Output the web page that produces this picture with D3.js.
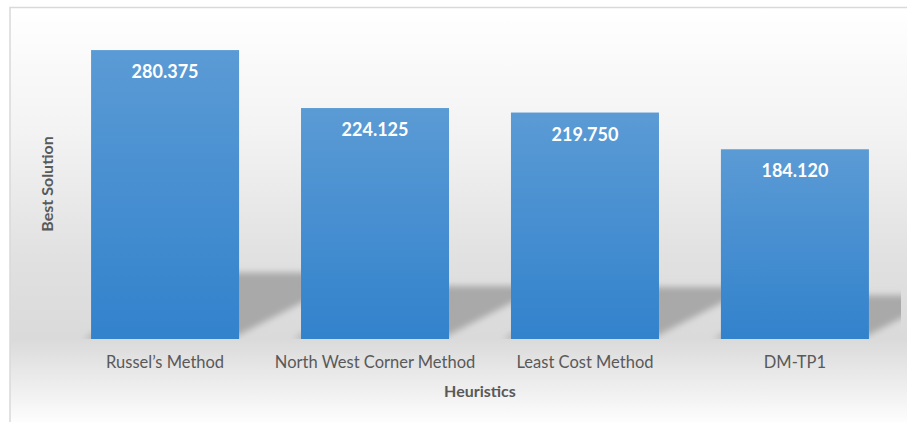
<!DOCTYPE html>
<html><head><meta charset="utf-8">
<script src="https://cdn.jsdelivr.net/npm/d3@7"></script>
<style>html,body{margin:0;padding:0;background:#fff;}svg{display:block;}</style>
</head><body>
<svg id="chart" width="907" height="422"></svg>
<script>
const categories = ["Russel\u2019s Method", "North West Corner Method", "Least Cost Method", "DM-TP1"];
const values = [280.375, 224.125, 219.750, 184.120];
const valueLabels = ["280.375", "224.125", "219.750", "184.120"];
const xTitle = "Heuristics";
const yTitle = "Best Solution";

const svg = d3.select("#chart");
const defs = svg.append("defs");

const bg = defs.append("linearGradient").attr("id","bg").attr("gradientUnits","userSpaceOnUse")
  .attr("x1",0).attr("y1",8).attr("x2",0).attr("y2",422);
[[0,"#ffffff"],[0.3,"#f3f3f3"],[0.6,"#e1e1e1"],[0.8,"#dadada"],[1,"#fdfdfd"]].forEach(s=>
  bg.append("stop").attr("offset",s[0]).attr("stop-color",s[1]));

const bar = defs.append("linearGradient").attr("id","bar").attr("x1",0).attr("y1",0).attr("x2",0).attr("y2",1);
bar.append("stop").attr("offset",0).attr("stop-color","#5b9bd5");
bar.append("stop").attr("offset",1).attr("stop-color","#3282cc");

defs.append("filter").attr("id","blur").attr("x","-20%").attr("y","-20%").attr("width","140%").attr("height","140%")
  .append("feGaussianBlur").attr("stdDeviation",3);

defs.append("clipPath").attr("id","plotclip").append("rect")
  .attr("x",60).attr("y",0).attr("width",841).attr("height",339);

// chart frame
svg.append("rect").attr("x",10).attr("y",7.5).attr("width",920).attr("height",440)
  .attr("fill","url(#bg)").attr("stroke","#d9d9d9").attr("stroke-width",1.5);

const x = d3.scaleBand().domain(categories).range([60,900]).paddingInner(0.295).paddingOuter(0.148);
const y = d3.scaleLinear().domain([0,300]).range([339, 339-300*1.0305]);

// perspective shadows
const base = y(0);
svg.append("g").attr("clip-path","url(#plotclip)")
  .selectAll("path").data(values).join("path")
  .attr("d",(d,i)=>{
    const x0 = x(categories[i]) - 8, x1 = x0 + x.bandwidth();
    const h = (base - y(d)) * 0.23;
    const dx = h * 1.95;
    return `M${x0},${base}L${x1},${base}L${x1+dx},${base-h}L${x0+dx},${base-h}Z`;
  })
  .attr("fill","#a9a9a9").attr("filter","url(#blur)");

// bars
svg.append("g").selectAll("rect").data(values).join("rect")
  .attr("x",(d,i)=>x(categories[i])).attr("width",x.bandwidth())
  .attr("y",d=>y(d)).attr("height",d=>base-y(d))
  .attr("fill","url(#bar)");

// value labels
svg.append("g").selectAll("text").data(values).join("text")
  .attr("x",(d,i)=>x(categories[i])+x.bandwidth()/2)
  .attr("y",d=>y(d)+28)
  .attr("text-anchor","middle").attr("fill","#ffffff")
  .attr("font-family","Lato, 'Open Sans', sans-serif").attr("font-weight","bold").attr("font-size","18px")
  .text((d,i)=>valueLabels[i]);

// x axis (category labels)
const xAxis = d3.axisBottom(x).tickSize(0).tickPadding(0);
const gx = svg.append("g").attr("transform",`translate(0,${base})`).call(xAxis);
gx.select(".domain").remove();
gx.selectAll("text").attr("dy",0).attr("y",29)
  .attr("font-family","Lato, 'Open Sans', sans-serif").attr("font-size","16.5px").attr("fill","#595959");

// axis titles
svg.append("text").attr("x",480).attr("y",397).attr("text-anchor","middle")
  .attr("font-family","Lato, 'Open Sans', sans-serif").attr("font-weight","bold").attr("font-size","16px")
  .attr("fill","#595959").text(xTitle);
svg.append("text").attr("transform","translate(53,184) rotate(-90)").attr("text-anchor","middle")
  .attr("font-family","Lato, 'Open Sans', sans-serif").attr("font-weight","bold").attr("font-size","16px")
  .attr("fill","#595959").text(yTitle);
</script>
</body></html>
